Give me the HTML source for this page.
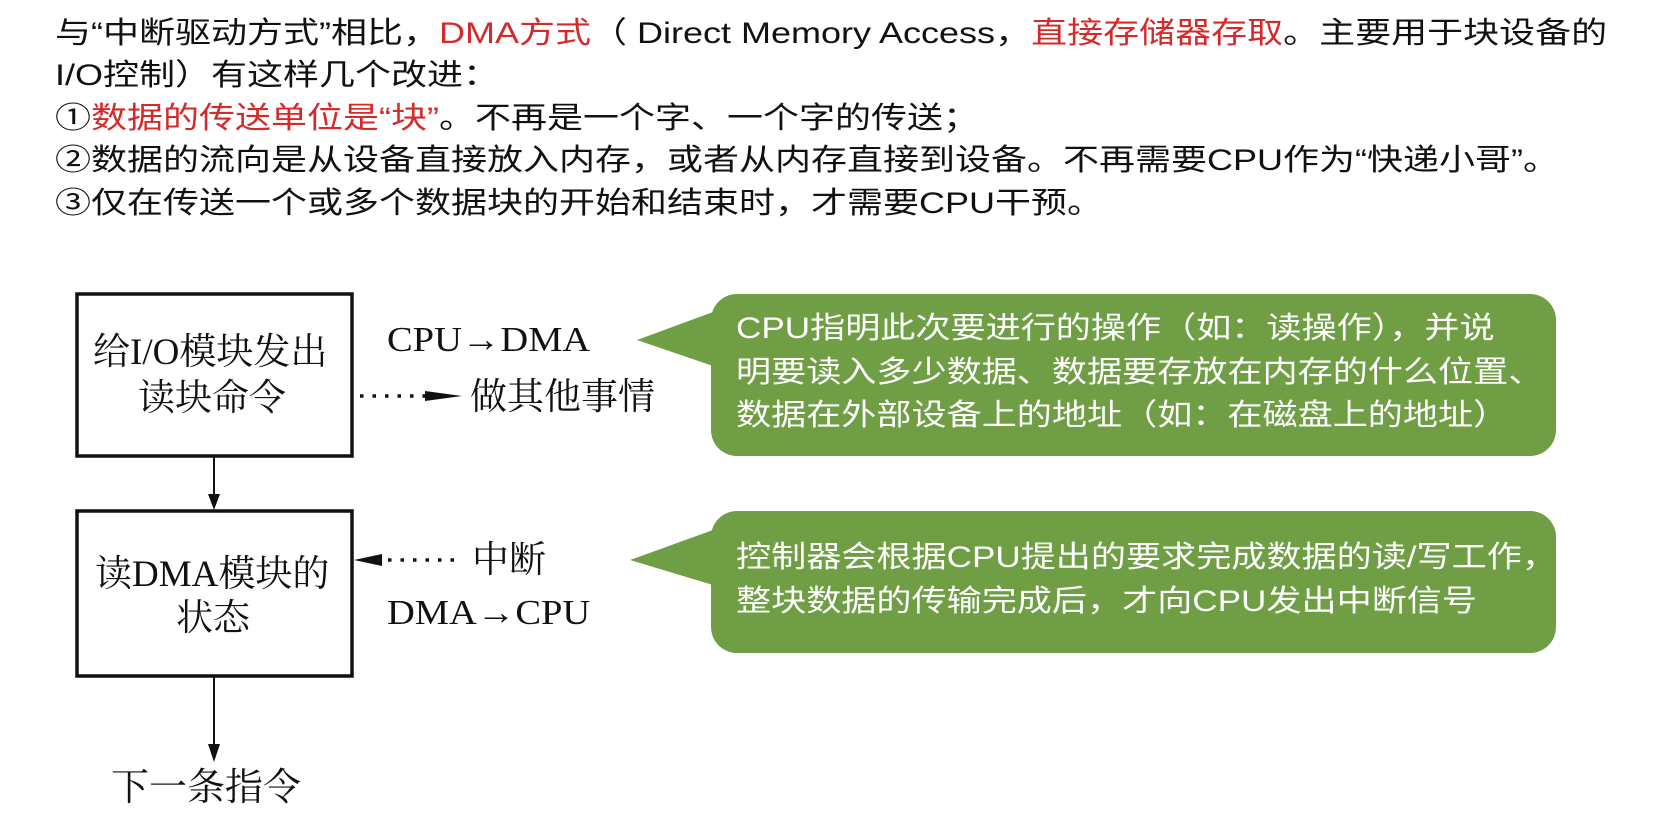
<!DOCTYPE html>
<html><head><meta charset="utf-8"><style>
html,body{margin:0;padding:0;background:#fff;}
body{width:1656px;height:838px;position:relative;overflow:hidden;}
.t{position:absolute;white-space:nowrap;font-family:"Liberation Sans","Noto Sans CJK SC",sans-serif;font-size:30px;color:#111;line-height:1;transform:scaleX(1.2);transform-origin:0 0;}
.r{color:#d42a2a;}
.s{position:absolute;white-space:nowrap;font-family:"Liberation Serif","Noto Serif CJK SC",serif;color:#111;line-height:1;}
.w{position:absolute;white-space:nowrap;font-family:"Liberation Sans","Noto Sans CJK SC",sans-serif;font-size:30px;color:#fff;line-height:1;transform:scaleX(1.17);transform-origin:0 0;}
</style></head><body>
<div class="t" style="left:55px;top:19px;">与“中断驱动方式”相比，<span class="r">DMA方式</span>（ Direct Memory Access，<span class="r">直接存储器存取</span>。主要用于块设备的</div>
<div class="t" style="left:55px;top:61px;">I/O控制）有这样几个改进：</div>
<div class="t" style="left:55px;top:104px;">①<span class="r">数据的传送单位是“块”</span>。不再是一个字、一个字的传送；</div>
<div class="t" style="left:55px;top:146px;">②数据的流向是从设备直接放入内存，或者从内存直接到设备。不再需要CPU作为“快递小哥”。</div>
<div class="t" style="left:55px;top:189px;">③仅在传送一个或多个数据块的开始和结束时，才需要CPU干预。</div>

<svg width="1656" height="838" style="position:absolute;left:0;top:0;">
<rect x="77" y="294" width="275" height="162" fill="none" stroke="#111" stroke-width="3.5"/>
<rect x="77" y="511" width="275" height="165" fill="none" stroke="#111" stroke-width="3.5"/>
<line x1="214" y1="456" x2="214" y2="498" stroke="#111" stroke-width="2"/>
<polygon points="208,494 220,494 214,510" fill="#111"/>
<line x1="214" y1="676" x2="214" y2="748" stroke="#111" stroke-width="2"/>
<polygon points="208,744 220,744 214,762" fill="#111"/>
<line x1="360" y1="396" x2="430" y2="396" stroke="#111" stroke-width="3.5" stroke-dasharray="3.5,9"/>
<polygon points="425,391 462,396 425,401" fill="#111"/>
<line x1="388" y1="560" x2="460" y2="560" stroke="#111" stroke-width="3.5" stroke-dasharray="3.5,9"/>
<polygon points="354,560 382,554 382,566" fill="#111"/>
<path d="M637,340 L713,312 L713,366 Z" fill="#6f9e45"/>
<rect x="711" y="294" width="845" height="162" rx="26" fill="#6f9e45"/>
<path d="M630,560 L713,530 L713,585 Z" fill="#6f9e45"/>
<rect x="711" y="511" width="845" height="142" rx="26" fill="#6f9e45"/>
</svg>

<div class="s" style="left:93px;top:334px;font-size:37px;">给I/O模块发出</div>
<div class="s" style="left:138px;top:380px;font-size:37px;">读块命令</div>
<div class="s" style="left:95px;top:556px;font-size:37px;">读DMA模块的</div>
<div class="s" style="left:176px;top:600px;font-size:37px;">状态</div>
<div class="s" style="left:111px;top:769px;font-size:38px;">下一条指令</div>
<div class="s" style="left:387px;top:322px;font-size:35px;transform:scaleX(1.1);transform-origin:0 0;">CPU→DMA</div>
<div class="s" style="left:470px;top:379px;font-size:37px;">做其他事情</div>
<div class="s" style="left:472px;top:542px;font-size:37px;">中断</div>
<div class="s" style="left:387px;top:595px;font-size:35px;transform:scaleX(1.1);transform-origin:0 0;">DMA→CPU</div>

<div class="w" style="left:736px;top:314px;">CPU指明此次要进行的操作（如：读操作），并说</div>
<div class="w" style="left:736px;top:358px;">明要读入多少数据、数据要存放在内存的什么位置、</div>
<div class="w" style="left:736px;top:401px;">数据在外部设备上的地址（如：在磁盘上的地址）</div>
<div class="w" style="left:736px;top:543px;">控制器会根据CPU提出的要求完成数据的读/写工作，</div>
<div class="w" style="left:736px;top:587px;">整块数据的传输完成后，才向CPU发出中断信号</div>
</body></html>
